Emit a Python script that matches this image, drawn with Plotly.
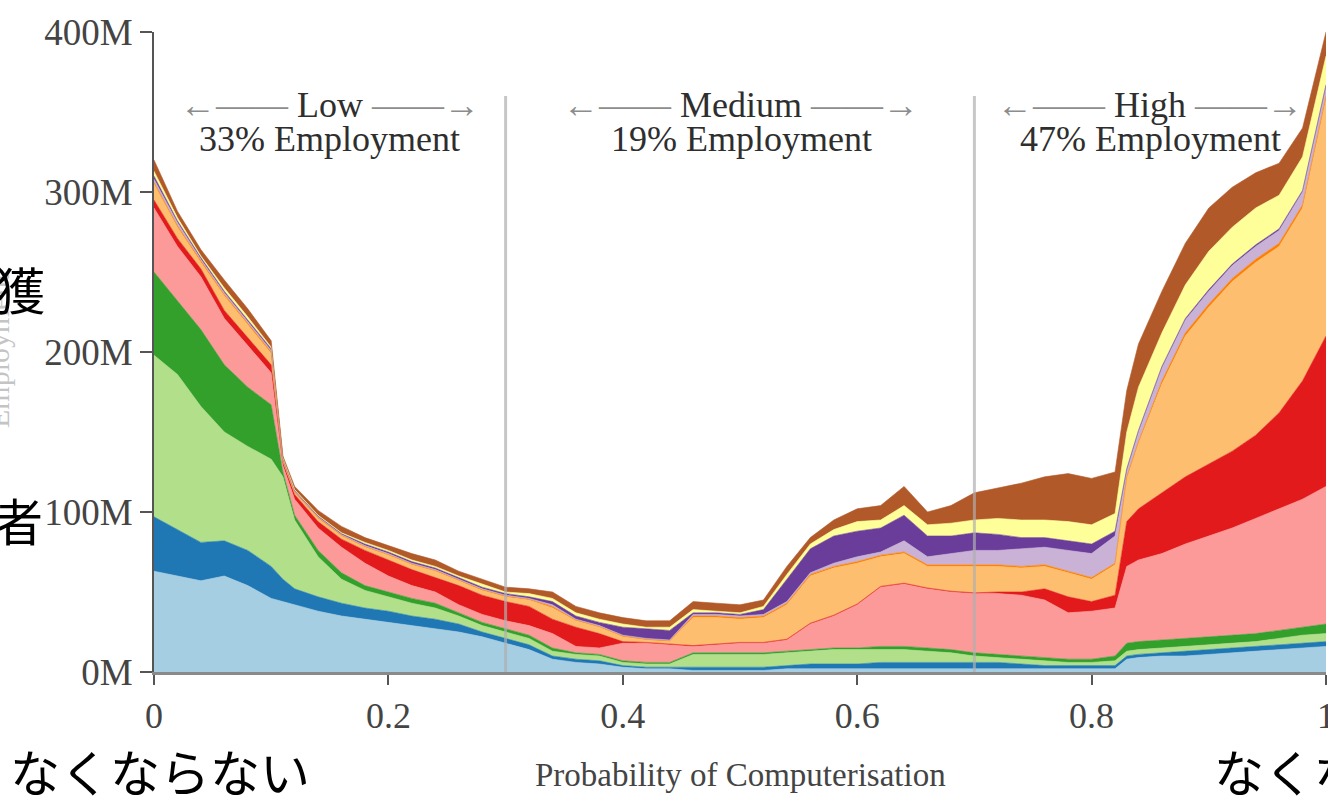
import plotly.graph_objects as go

# Probability of computerisation (x grid)
prob = [0, 0.02, 0.04, 0.06, 0.08, 0.10, 0.11,
        0.12, 0.14, 0.16, 0.18, 0.20, 0.22, 0.24, 0.26, 0.28, 0.30, 0.32, 0.34,
        0.36, 0.38, 0.40, 0.42, 0.44, 0.46, 0.48, 0.50, 0.52, 0.54, 0.56, 0.58,
        0.60, 0.62, 0.64, 0.66, 0.68, 0.70, 0.72, 0.74, 0.76, 0.78, 0.80, 0.82,
        0.83, 0.84, 0.86, 0.88, 0.90, 0.92, 0.94, 0.96, 0.98, 1.00]

# Stacked employment (cumulative top of each occupation group, millions)
top_management = [63, 60, 57, 60, 54, 46, 44,
                  42, 38, 35, 33, 31, 29, 27, 25, 22, 18, 14, 8,
                  6, 5, 3, 2, 2, 1, 1, 1, 1, 2, 2, 2,
                  2, 2, 2, 2, 2, 2, 2, 2, 2, 2, 2, 2,
                  8, 9, 10, 10, 11, 12, 13, 14, 15, 16]
top_computer = [97, 89, 81, 82, 76, 66, 58,
                52, 47, 43, 40, 38, 35, 33, 30, 25, 21, 17, 10,
                8, 7, 4, 3, 3, 3, 3, 3, 3, 4, 5, 5,
                5, 6, 6, 6, 6, 6, 6, 5, 4, 4, 4, 4,
                10, 11, 12, 13, 14, 15, 16, 17, 18, 19]
top_education = [198, 186, 166, 150, 141, 133, 122,
                 95, 72, 58, 51, 47, 43, 40, 35, 29, 25, 21, 13,
                 11, 10, 6, 5, 5, 11, 11, 11, 11, 12, 13, 14,
                 14, 14, 14, 13, 12, 10, 9, 8, 7, 6, 6, 7,
                 13, 14, 15, 16, 17, 18, 19, 21, 23, 24]
top_healthcare = [250, 232, 214, 192, 178, 167, 125,
                  98, 76, 62, 54, 50, 46, 43, 37, 31, 27, 23, 15,
                  12, 11, 7, 6, 6, 12, 12, 12, 12, 13, 14, 15,
                  15, 16, 16, 15, 14, 12, 11, 10, 9, 8, 8, 10,
                  18, 19, 20, 21, 22, 23, 24, 26, 28, 30]
top_service = [290, 266, 247, 221, 204, 187, 129,
               108, 90, 78, 68, 60, 54, 50, 42, 36, 32, 29, 24,
               16, 15, 18, 18, 17, 16, 17, 18, 18, 20, 30, 35,
               42, 53, 55, 52, 50, 49, 49, 48, 45, 37, 38, 40,
               66, 70, 74, 80, 85, 90, 96, 102, 108, 116]
top_sales = [295, 271, 252, 226, 209, 192, 131,
             111, 94, 83, 76, 70, 64, 59, 54, 48, 44, 41, 33,
             28, 24, 19, 18.5, 17.5, 16.5, 17.5, 18.5, 18.5, 20.5, 30.5, 35.5,
             42.5, 53.5, 55.5, 52.5, 50.5, 49.5, 50, 50, 52, 47, 44, 48,
             94, 102, 112, 122, 130, 138, 148, 162, 182, 210]
top_office = [305, 278, 256, 235, 217, 199, 132,
              112, 96, 85, 78, 73, 67, 63, 57, 51, 47, 45, 40,
              32, 28, 22, 20, 19, 34, 34, 33, 34, 42, 60, 65,
              68, 72, 74, 66, 66, 66, 66, 65, 66, 62, 58, 67,
              121, 143, 180, 210, 228, 244, 256, 266, 290, 358]
top_farming = [306, 279, 257, 236, 218, 200, 132.5,
               112.5, 96.5, 85.5, 78.5, 73.5, 67.5, 63.5, 57.5, 51.5, 47.5, 45.5, 41,
               32.5, 28.5, 22.5, 20.5, 19.5, 35, 35, 34, 35, 43, 61, 66,
               69, 73, 75, 67, 67, 67, 67, 66, 67, 63, 59, 68,
               122, 144, 182, 212, 230, 246, 258, 268, 292, 360]
top_construction = [308, 281, 258, 237, 219, 201, 133,
                    113, 97, 86, 79, 74, 68, 64, 58, 52, 48, 46, 42,
                    33, 29, 23, 21, 20, 36, 36, 35, 36, 44, 62, 68,
                    72, 75, 82, 72, 74, 76, 76, 77, 78, 76, 74, 85,
                    126, 150, 190, 220, 238, 254, 266, 276, 300, 366]
top_installation = [310, 282, 259, 238, 220, 202, 133.5,
                    113.5, 97.5, 86.5, 80, 75, 69, 65, 59, 53, 49, 47, 44,
                    35, 31, 28, 27, 26, 37, 37, 36, 39, 58, 77, 85,
                    88, 90, 98, 85, 85, 87, 86, 84, 84, 82, 80, 88,
                    127, 151, 191, 221, 239, 255, 267, 277, 301, 367]
top_production = [313, 284, 260, 240, 222, 203, 134,
                  114, 98, 87, 81, 76, 70, 66, 60, 55, 50, 49, 46,
                  37, 33, 30, 28, 28, 39, 38, 37, 41, 61, 80, 89,
                  94, 95, 104, 92, 93, 95, 96, 95, 95, 94, 92, 99,
                  150, 178, 212, 242, 263, 278, 290, 298, 322, 385]
top_transportation = [320, 288, 264, 245, 227, 207, 135,
                      116, 101, 91, 84, 79, 74, 70, 63, 58, 53, 52, 50,
                      41, 37, 34, 32, 32, 44, 43, 42, 45, 66, 84, 95,
                      102, 104, 116, 100, 104, 112, 115, 118, 122, 124, 121, 125,
                      176, 205, 238, 268, 290, 303, 312, 318, 340, 400]

layer_names = ["Management, Business, and Financial", "Computer, Engineering, and Science",
               "Education, Legal, Community Service, Arts, and Media",
               "Healthcare Practitioners and Technical", "Service", "Sales and Related",
               "Office and Administrative Support", "Farming, Fishing, and Forestry",
               "Construction and Extraction", "Installation, Maintenance, and Repair",
               "Production", "Transportation and Material Moving"]
layer_tops = [top_management, top_computer, top_education, top_healthcare, top_service,
              top_sales, top_office, top_farming, top_construction, top_installation,
              top_production, top_transportation]
layer_colors = ["#a6cee3", "#1f78b4", "#b2df8a", "#33a02c", "#fb9a99", "#e31a1c",
                "#fdbf6f", "#ff7f00", "#cab2d6", "#6a3d9a", "#ffff99", "#b15928"]

y_ticks = [0, 100, 200, 300, 400]
y_ticktext = ["0M", "100M", "200M", "300M", "400M"]
x_ticks = [0, 0.2, 0.4, 0.6, 0.8, 1]
x_ticktext = ["0", "0.2", "0.4", "0.6", "0.8", "1"]

bands = [("Low", "33% Employment", 0.150), ("Medium", "19% Employment", 0.501),
         ("High", "47% Employment", 0.850)]
dividers = [0.3, 0.7]

fig = go.Figure()
for i, (name, ys, col) in enumerate(zip(layer_names, layer_tops, layer_colors)):
    fig.add_trace(go.Scatter(
        x=prob, y=ys, name=name, mode="lines",
        line=dict(color=col, width=0.6),
        fillcolor=col, fill="tozeroy" if i == 0 else "tonexty",
        showlegend=False, hoverinfo="skip"))

serif = "Liberation Serif, Times New Roman, serif"
txt = "#2e2e2e"
arr = "#8c8c8c"

for xv in dividers:
    fig.add_shape(type="line", xref="x", yref="y", x0=xv, x1=xv, y0=0, y1=360,
                  line=dict(color="rgba(175,175,175,0.7)", width=3), layer="above")


def px_x(p):
    return (p - 154) / 1172


def px_y(p):
    return (672 - p) / 640


ann = []
for label, emp, xc in bands:
    ann.append(dict(x=xc, y=px_y(105), xref="paper", yref="paper", showarrow=False,
                    xanchor="center", yanchor="middle",
                    text=f'<span style="color:{arr}">←——</span> {label} <span style="color:{arr}">——→</span>',
                    font=dict(family=serif, size=36, color=txt)))
    ann.append(dict(x=xc, y=px_y(139), xref="paper", yref="paper", showarrow=False,
                    xanchor="center", yanchor="middle",
                    text=emp, font=dict(family=serif, size=36, color=txt)))

ann.append(dict(x=0.5, y=px_y(775), xref="paper", yref="paper", showarrow=False,
                xanchor="center", yanchor="middle",
                text="Probability of Computerisation",
                font=dict(family=serif, size=33, color="#444")))
ann.append(dict(x=px_x(-2), y=px_y(350), xref="paper", yref="paper", showarrow=False,
                text="Employment", textangle=-90, xanchor="center", yanchor="middle",
                font=dict(family=serif, size=30, color="#c4c4c4")))
jp = "Noto Sans CJK JP"
ann.append(dict(x=px_x(8), y=px_y(770), xref="paper", yref="paper",
                showarrow=False, xanchor="left", yanchor="middle", text="なくならない",
                font=dict(family=jp, size=50, color="#000")))
ann.append(dict(x=px_x(1212), y=px_y(770), xref="paper", yref="paper",
                showarrow=False, xanchor="left", yanchor="middle", text="なくなる",
                font=dict(family=jp, size=50, color="#000")))
ann.append(dict(x=px_x(20), y=px_y(288), xref="paper", yref="paper",
                showarrow=False, xanchor="center", yanchor="middle", text="獲",
                font=dict(family=jp, size=50, color="#000")))
ann.append(dict(x=px_x(18), y=px_y(519), xref="paper", yref="paper",
                showarrow=False, xanchor="center", yanchor="middle", text="者",
                font=dict(family=jp, size=50, color="#000")))

fig.update_layout(
    width=1328, height=806,
    margin=dict(l=154, r=2, t=32, b=134, autoexpand=False),
    paper_bgcolor="white", plot_bgcolor="white",
    annotations=ann,
    xaxis=dict(range=[0, 1], tickvals=x_ticks, ticktext=x_ticktext,
               showgrid=False, zeroline=False, showline=True, automargin=False,
               linecolor="#8a8a8a", linewidth=3, ticks="outside", ticklen=10,
               tickcolor="#555", tickwidth=2, ticklabeloverflow="allow",
               tickfont=dict(family=serif, size=36, color="#444")),
    yaxis=dict(range=[0, 400], tickvals=y_ticks, ticktext=y_ticktext,
               showgrid=False, zeroline=False, showline=True, automargin=False,
               linecolor="#555", linewidth=2, ticks="outside", ticklen=12,
               tickcolor="#555", tickwidth=2,
               tickfont=dict(family=serif, size=37, color="#444")),
)

fig.write_html("out.html")
